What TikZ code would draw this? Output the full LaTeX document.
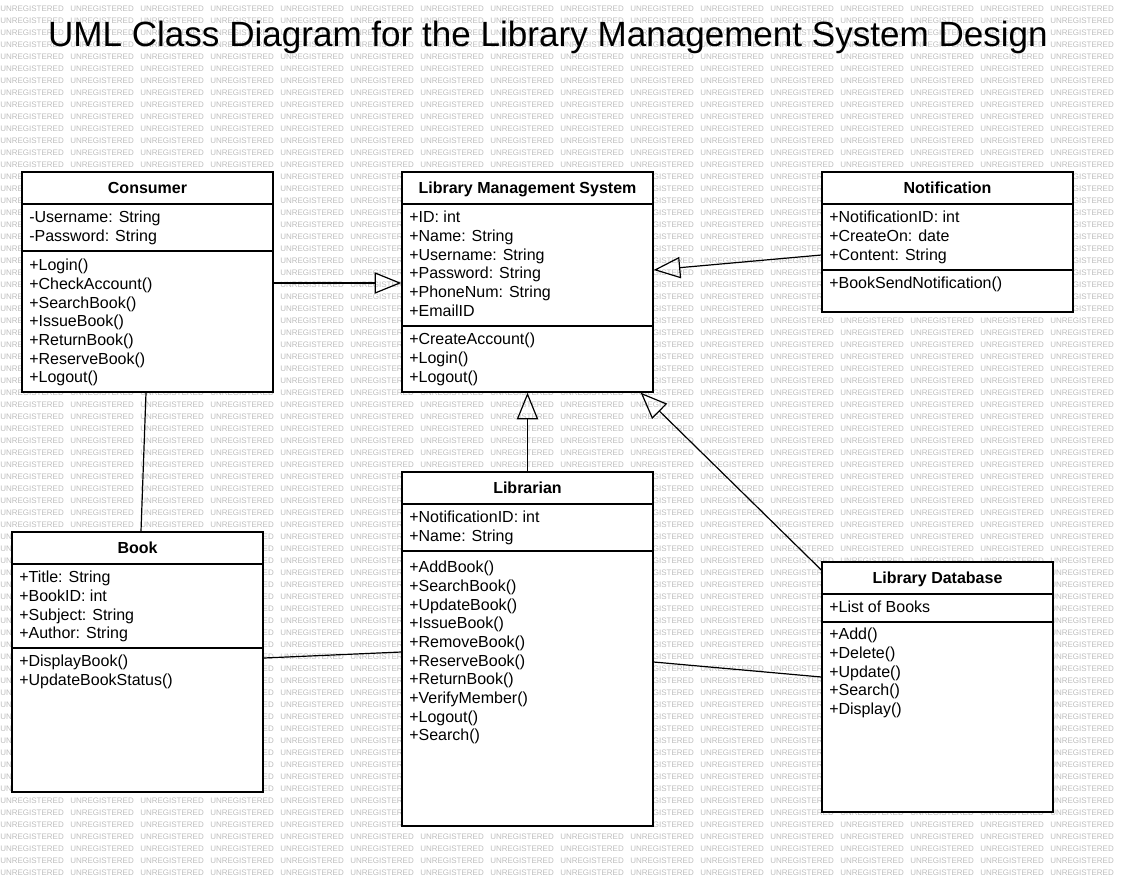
\documentclass[tikz,border=0pt]{standalone}
\usepackage{fontspec}
\setmainfont{Liberation Sans}
\usetikzlibrary{arrows.meta,fit,calc}

\begin{document}
\begin{tikzpicture}[x=0.75pt, y=-0.75pt,
    box/.style={draw, fill=white, line width=1pt, inner sep=0pt},
    head/.style={font=\fontsize{12}{14}\selectfont\bfseries, anchor=base},
    field/.style={font=\fontsize{12}{14}\selectfont, anchor=north west, align=left, inner sep=0pt},
    wm/.style={font=\fontsize{6}{6}\selectfont, text=black!26, anchor=west, inner sep=0pt},
    divider/.style={line width=1pt},
    gen/.style={-{Triangle[open, length=20pt, width=16pt]}, line width=0.9pt},
    assoc/.style={line width=0.9pt}]
    \useasboundingbox (0,0) rectangle (1132,876);
    % watermark
    \foreach \r in {0,...,72}
        \foreach \c in {0,...,15}
            \node[wm] (wm-\r-\c) at (\c*70, 9+\r*12) {UNREGISTERED};

    \node[font=\fontsize{26.3}{30}\selectfont, anchor=base] (title) at (548,46.5) {UML Class Diagram for the Library Management System Design};

    % classes
    \node[box, fit={(22,172) (273,392)}] (consumer) {};
    \node[box, fit={(402,172) (653,392)}] (lms) {};
    \node[box, fit={(822,172) (1073,312)}] (notif) {};
    \node[box, fit={(12,532) (263,792)}] (book) {};
    \node[box, fit={(402,472) (653,826)}] (librarian) {};
    \node[box, fit={(822,562) (1053,812)}] (db) {};

    \foreach \n/\y in {consumer/204, consumer/251, lms/204, lms/326, notif/204, notif/270,
                       book/564, book/648, librarian/504, librarian/551, db/594, db/622}
        \draw[divider] (\n.west |- 0,\y) -- (\n.east |- 0,\y);

    \node[head] (consumer-h) at ($(consumer.north)+(0,21.7)$) {Consumer};
    \node[head] (lms-h) at ($(lms.north)+(0,21.7)$) {Library Management System};
    \node[head] (notif-h) at ($(notif.north)+(0,21.7)$) {Notification};
    \node[head] (book-h) at ($(book.north)+(0,21.7)$) {Book};
    \node[head] (librarian-h) at ($(librarian.north)+(0,21.7)$) {Librarian};
    \node[head] (db-h) at ($(db.north)+(0,21.7)$) {Library Database};

    \node[field] (consumer-a) at (29,211) {-Username: String\\-Password: String};
    \node[field] (consumer-m) at (29,259) {+Login()\\+CheckAccount()\\+SearchBook()\\+IssueBook()\\+ReturnBook()\\+ReserveBook()\\+Logout()};
    \node[field] (lms-a) at (409,211) {+ID: int\\+Name: String\\+Username: String\\+Password: String\\+PhoneNum: String\\+EmailID};
    \node[field] (lms-m) at (409,333) {+CreateAccount()\\+Login()\\+Logout()};
    \node[field] (notif-a) at (829,211) {+NotificationID: int\\+CreateOn: date\\+Content: String};
    \node[field] (notif-m) at (829,277) {+BookSendNotification()};
    \node[field] (book-a) at (19,571) {+Title: String\\+BookID: int\\+Subject: String\\+Author: String};
    \node[field] (book-m) at (19,655) {+DisplayBook()\\+UpdateBookStatus()};
    \node[field] (librarian-a) at (409,511) {+NotificationID: int\\+Name: String};
    \node[field] (librarian-m) at (409,561) {+AddBook()\\+SearchBook()\\+UpdateBook()\\+IssueBook()\\+RemoveBook()\\+ReserveBook()\\+ReturnBook()\\+VerifyMember()\\+Logout()\\+Search()};
    \node[field] (db-a) at (829,601) {+List of Books};
    \node[field] (db-m) at (829,628) {+Add()\\+Delete()\\+Update()\\+Search()\\+Display()};

    % relations
    \draw[gen] (consumer.east |- 0,283) -- (lms.west |- 0,283);
    \draw[gen] (notif.west |- 0,255) -- (lms.east |- 0,270);
    \draw[gen] (librarian.north) -- (lms.south);
    \draw[gen] (db.west |- 0,570) -- ($(lms.south east)+(-13,0)$);
    \draw[assoc] (consumer.south -| 146,0) -- (book.north -| 141,0);
    \draw[assoc] (book.east |- 0,658) -- (librarian.west |- 0,652);
    \draw[assoc] (librarian.east |- 0,662) -- (db.west |- 0,677);
\end{tikzpicture}
\end{document}
